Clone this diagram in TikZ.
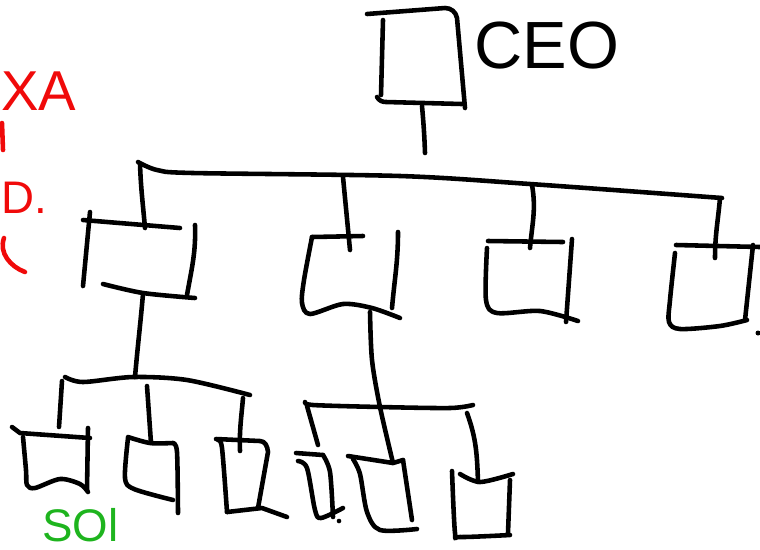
\documentclass[tikz,border=0pt]{standalone}
\usepackage{fontspec}
\setmainfont{Liberation Sans}
\definecolor{inkred}{RGB}{240,10,10}
\definecolor{inkgreen}{RGB}{30,180,30}
\begin{document}
\begin{tikzpicture}[x=0.02cm,y=-0.02cm,
  pen/.style={line width=2.6pt, line cap=round, line join=round, black},
  redpen/.style={line width=2.6pt, line cap=round, line join=round, inkred},
  note/.style={inner sep=0pt, anchor=base west}]
\useasboundingbox (0,0) rectangle (760,549);
\clip (0,0) rectangle (760,549);

% ---- CEO box
\draw[pen] (367,14) -- (445,8) to[out=0,in=100] (457,18) -- (465,108);
\draw[pen] (383,20) -- (381,95);
\draw[pen] (377,97) to[out=-60,in=180] (386,102) -- (462,104);
\coordinate (ceoB) at (422,106);
\coordinate (ceoS) at (425,153);
\draw[pen] (ceoB) to[out=-85,in=92] (ceoS);
\node[inner sep=0pt, font=\fontsize{38}{38}\selectfont] (ceo) at (547,46) {CEO};

% ---- top bus
\draw[pen] plot[smooth] coordinates {(138,162) (157,170) (193,173) (400,176) (530,184) (722,198)};
\coordinate (b1) at (140,164);
\coordinate (b2) at (343,177);
\coordinate (b3) at (532,185);
\coordinate (b4) at (720,198);
\coordinate (a1) at (145,228);
\coordinate (a2) at (350,250);
\coordinate (a3) at (530,248);
\coordinate (a4) at (715,258);
\draw[pen] (b1) to[out=-88,in=95] (a1);
\draw[pen] (b2) -- (a2);
\draw[pen] (b3) to[out=-80,in=85] (a3);
\draw[pen] (b4) to[out=-95,in=90] (a4);

% ---- box A
\draw[pen] (83,220) -- (180,228);
\draw[pen] (90,212) -- (83,286);
\draw[pen] (195,225) to[out=-88,in=80] (187,295);
\draw[pen] plot[smooth] coordinates {(103,284) (143,293) (195,298)};
% ---- box B
\draw[pen] (312,237) -- (363,236);
\draw[pen] plot[smooth] coordinates {(312,237) (304,280) (302,303) (310,314) (343,304) (372,308) (400,318)};
\draw[pen] (398,232) to[out=-90,in=85] (392,308);
% ---- box C
\draw[pen] (488,241) -- (563,242);
\draw[pen] plot[smooth] coordinates {(487,248) (486,300) (497,313) (540,311) (578,321)};
\draw[pen] (572,239) -- (566,322);
% ---- box D
\draw[pen] (676,245) -- (760,247);
\draw[pen] plot[smooth] coordinates {(675,253) (670,300) (669,322) (680,329) (720,326) (747,320)};
\draw[pen] (753,245) -- (745,320);
\fill (758,333) circle (2.5);

% ---- stem from box A to lower-left bus
\coordinate (sA) at (143,294);
\coordinate (lA) at (135,377);
\draw[pen] (sA) to[out=-95,in=85] (lA);
\draw[pen] plot[smooth] coordinates {(65,377) (83,382) (133,377) (187,380) (250,395)};
\coordinate (l1t) at (62,381);
\coordinate (l1b) at (59,427);
\coordinate (l2t) at (147,386);
\coordinate (l2b) at (151,443);
\coordinate (l3t) at (243,398);
\coordinate (l3b) at (240,451);
\draw[pen] (l1t) -- (l1b);
\draw[pen] (l2t) -- (l2b);
\draw[pen] (l3t) to[out=-95,in=92] (l3b);

% ---- box E
\draw[pen] (12,427) -- (20,433) -- (90,438);
\draw[pen] plot[smooth] coordinates {(23,437) (26,470) (27,485) (35,488) (60,479) (80,484) (88,492)};
\draw[pen] (88,428) -- (87,490);
% ---- box F
\draw[pen] plot[smooth] coordinates {(173,443) (150,443) (128,437)};
\draw[pen] plot[smooth] coordinates {(128,438) (125,478) (134,489) (173,500)};
\draw[pen] plot[smooth] coordinates {(173,443) (177,452) (178,513)};
% ---- box G
\draw[pen] (216,439) -- (260,441) to[out=0,in=95] (268,452) -- (258,508);
\draw[pen] plot[smooth] coordinates {(218,440) (222,448) (227,512)};
\draw[pen] (227,512) -- (262,508) -- (287,517);

% ---- stem from box B to lower-right bus
\coordinate (sB) at (370,312);
\coordinate (eB) at (393,463);
\draw[pen] plot[smooth] coordinates {(sB) (372,360) (380,407) (eB)};
\draw[pen] plot[smooth] coordinates {(305,402) (313,405) (380,407) (450,408) (473,405)};
\coordinate (r1t) at (307,406);
\coordinate (r1b) at (318,445);
\coordinate (r3t) at (467,413);
\coordinate (r3b) at (478,482);
\draw[pen] (r1t) -- (r1b);
\draw[pen] (r3t) to[out=-70,in=92] (r3b);

% ---- box H
\draw[pen] (296,453) -- (323,455);
\draw[pen] plot[smooth] coordinates {(298,461) (307,468) (315,510) (321,518) (343,508)};
\draw[pen] plot[smooth] coordinates {(323,455) (330,472) (333,517)};
\fill (339,521) circle (2.3);
% ---- box I
\draw[pen] (348,456) -- (393,463) -- (403,460);
\draw[pen] plot[smooth] coordinates {(353,459) (360,474) (367,512) (380,530) (417,529)};
\draw[pen] (403,460) -- (412,520);
% ---- box J
\draw[pen] plot[smooth] coordinates {(460,474) (480,482) (513,474)};
\draw[pen] plot[smooth] coordinates {(452,471) (455,533) (460,537) (510,535)};
\draw[pen] (510,480) -- (508,533);

% ---- red notes
\node[note, text=inkred, font=\fontsize{32}{32}\selectfont] (xa) at (1,110) {XA};
\draw[redpen] (2,123) -- (3,150);
\node[note, text=inkred, font=\fontsize{26}{26}\selectfont] (dd) at (1,213) {D.};
\draw[redpen] (4,238) to[out=250,in=160] (25,272);
% ---- green note
\node[note, text=inkgreen, font=\fontsize{26}{26}\selectfont] (sol) at (42,541) {SOl};
\end{tikzpicture}
\end{document}
